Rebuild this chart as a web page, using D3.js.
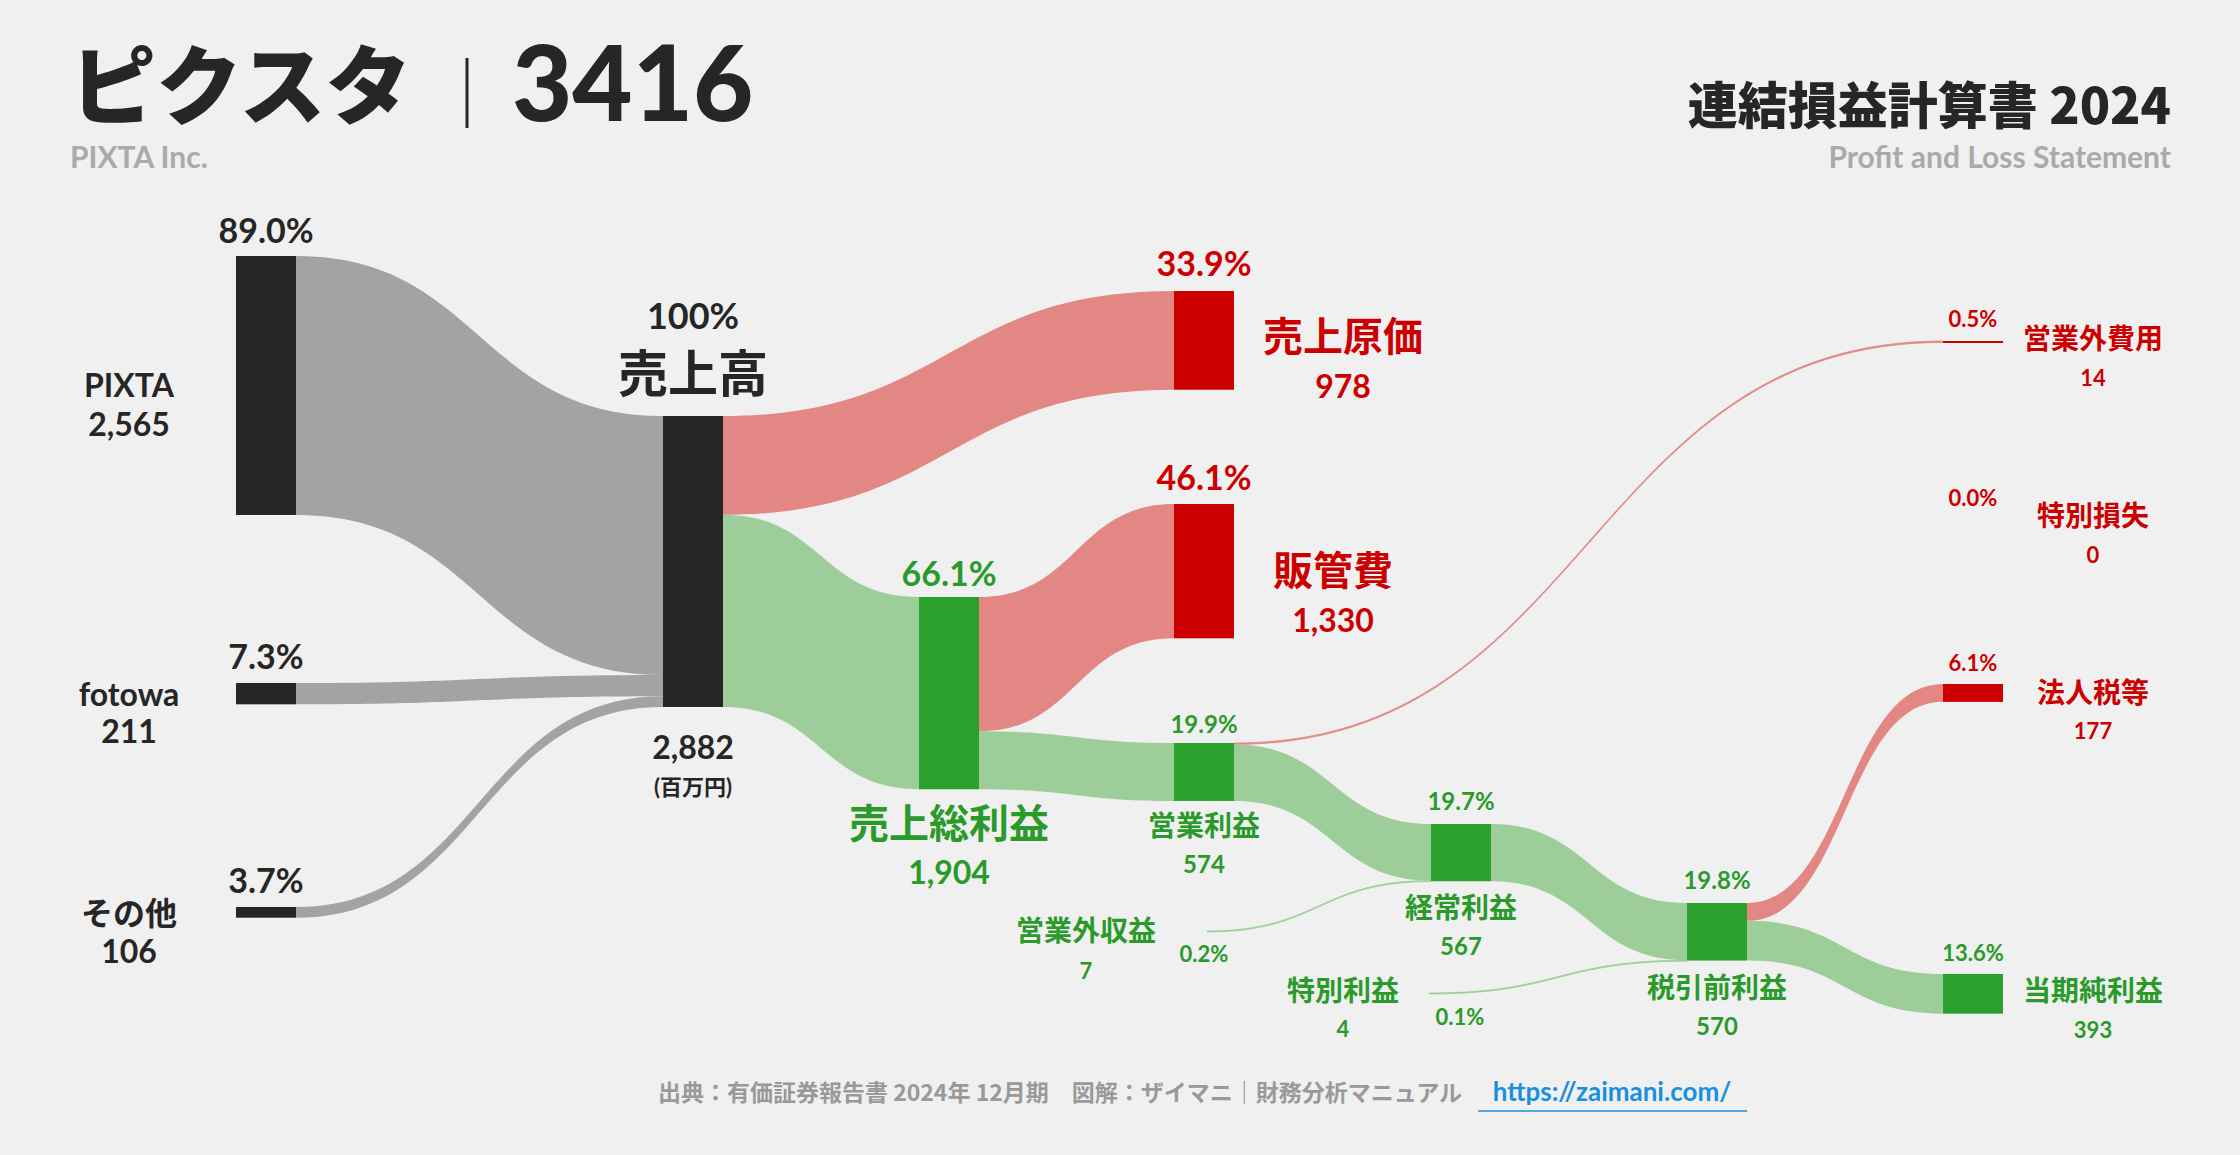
<!DOCTYPE html>
<html>
<head>
<meta charset="utf-8">
<script src="https://d3js.org/d3.v7.min.js"></script>
<style>
  body { margin: 0; background: #f0f0f0; }
  svg { font-family: Lato, "Noto Sans CJK JP", sans-serif; font-weight: 700; }
</style>
</head>
<body>
<svg id="chart" width="2240" height="1155"></svg>
<script>
// ---- data (百万円) ----
const nodeNames = ["PIXTA", "fotowa", "その他", "売上高", "売上原価", "売上総利益", "販管費",
  "営業利益", "営業外費用", "特別損失", "経常利益", "営業外収益", "特別利益", "税引前利益", "法人税等", "当期純利益"];
const nodeValues = [2565, 211, 106, 2882, 978, 1904, 1330, 574, 14, 0, 567, 7, 4, 570, 177, 393];
const nodePercents = ["89.0%", "7.3%", "3.7%", "100%", "33.9%", "66.1%", "46.1%", "19.9%", "0.5%", "0.0%", "19.7%", "0.2%", "0.1%", "19.8%", "6.1%", "13.6%"];
const linkSources = ["PIXTA", "fotowa", "その他", "売上高", "売上高", "売上総利益", "売上総利益", "営業利益", "営業利益", "営業外収益", "経常利益", "特別利益", "税引前利益", "税引前利益"];
const linkTargets = ["売上高", "売上高", "売上高", "売上原価", "売上総利益", "販管費", "営業利益", "営業外費用", "経常利益", "経常利益", "税引前利益", "税引前利益", "法人税等", "当期純利益"];
const linkValues = [2565, 211, 106, 978, 1904, 1330, 574, 14, 560, 7, 567, 4, 177, 393];

// ---- layout ----
const colX = [236, 663, 919, 1174, 1431, 1687, 1943];
const layout = {
  "PIXTA": [0, 256, "dark"], "fotowa": [0, 683, "dark"], "その他": [0, 907, "dark"],
  "売上高": [1, 416, "dark"], "売上総利益": [2, 597, "green"],
  "売上原価": [3, 291, "red"], "販管費": [3, 504, "red"], "営業利益": [3, 743, "green"],
  "経常利益": [4, 824, "green"], "税引前利益": [5, 903, "green"],
  "営業外費用": [6, 341, "red"], "特別損失": [6, 521, "red"], "法人税等": [6, 684, "red"], "当期純利益": [6, 974, "green"],
  "営業外収益": [null, 931, "none", 1207], "特別利益": [null, 993, "none", 1429]
};
const W = 60;
const col = { dark: "#262626", red: "#cc0000", green: "#2ca02c", none: "none" };
const linkCol = { dark: "#a3a3a3", red: "#e28783", green: "#9dce9a" };
const h = d3.scaleLinear().domain([0, 2882]).range([0, 291]);

const svg = d3.select("#chart");
const nodes = nodeNames.map((n, i) => {
  const L = layout[n];
  const x = L[0] === null ? L[3] : colX[L[0]];
  return { name: n, value: nodeValues[i], pct: nodePercents[i], x: x, y: L[1], kind: L[2],
    w: L[0] === null ? 0 : W, outOff: 0, inOff: 0 };
});
const byName = Object.fromEntries(nodes.map(d => [d.name, d]));

const links = linkSources.map((s, i) => {
  const S = byName[s], T = byName[linkTargets[i]], v = linkValues[i];
  const th = Math.max(h(v), 1);
  const y0 = S.y + S.outOff, y1 = T.y + T.inOff;
  S.outOff += h(v); T.inOff += h(v);
  return { S, T, v, th, y0, y1, kind: T.kind === "red" ? "red" : (S.kind === "dark" && T.name === "売上高" ? "dark" : "green") };
});

function ribbon(d) {
  const x0 = d.S.x + d.S.w, x1 = d.T.x, xm = (x0 + x1) / 2;
  const a = d.y0, b = d.y1, t = d.th;
  return `M${x0},${a}C${xm},${a} ${xm},${b} ${x1},${b}L${x1},${b + t}C${xm},${b + t} ${xm},${a + t} ${x0},${a + t}Z`;
}
svg.append("g").selectAll("path").data(links).join("path")
  .attr("d", ribbon)
  .attr("fill", d => linkCol[d.kind])
  .attr("stroke", d => d.th < 2 ? linkCol[d.kind] : "none")
  .attr("stroke-width", 0.8);

svg.append("g").selectAll("rect").data(nodes.filter(d => d.w > 0)).join("rect")
  .attr("x", d => d.x).attr("y", d => d.y).attr("width", d => d.w)
  .attr("height", d => Math.max(h(d.value), d.value > 0 ? 2 : 0))
  .attr("fill", d => col[d.kind]);

// ---- labels ----
function txt(x, y, s, size, color, anchor = "middle", weight = 700) {
  return svg.append("text").attr("x", x).attr("y", y).attr("font-size", size)
    .attr("fill", color).attr("text-anchor", anchor).attr("font-weight", weight).text(s);
}
const fmt = d3.format(",");
const dark = "#262626", red = "#cc0000", green = "#2a9a2a";
const labels = [
  ["PIXTA", [266, 243, 34], [129, 397, 32], [129, 436, 32], dark],
  ["fotowa", [266, 669, 34], [129, 706, 32], [129, 743, 32], dark],
  ["その他", [266, 893, 34], [129, 925, 32], [129, 963, 32], dark],
  ["売上高", [693, 329, 36], [693, 392, 50], [693, 759, 32], dark],
  ["売上原価", [1204, 276, 34], [1343, 351, 40], [1343, 398, 32], red],
  ["販管費", [1204, 490, 34], [1333, 585, 40], [1333, 632, 32], red],
  ["売上総利益", [949, 586, 34], [949, 838, 40], [949, 884, 32], green],
  ["営業利益", [1204, 733, 24], [1204, 836, 28], [1204, 873, 24], green],
  ["営業外費用", [1973, 327, 22], [2093, 349, 28], [2093, 386, 22], red],
  ["特別損失", [1973, 506, 22], [2093, 526, 28], [2093, 563, 22], red],
  ["法人税等", [1973, 671, 22], [2093, 703, 28], [2093, 739, 22], red],
  ["経常利益", [1461, 810, 24], [1461, 918, 28], [1461, 955, 24], green],
  ["営業外収益", [1204, 962, 22], [1086, 941, 28], [1086, 979, 22], green],
  ["特別利益", [1460, 1025, 22], [1343, 1001, 28], [1343, 1037, 22], green],
  ["税引前利益", [1717, 889, 24], [1717, 998, 28], [1717, 1035, 24], green],
  ["当期純利益", [1973, 961, 22], [2093, 1001, 28], [2093, 1038, 22], green]
];
labels.forEach(([n, p, nm, v, c]) => {
  const d = byName[n];
  txt(p[0], p[1], d.pct, p[2], c);
  txt(nm[0], nm[1], n, nm[2], c);
  txt(v[0], v[1], fmt(d.value), v[2], c);
});
txt(693, 795, "(百万円)", 22, dark);

// ---- titles ----
txt(70, 118, "ピクスタ", 86, dark, "start", 900).attr("font-family", "Noto Sans CJK JP");
svg.append("line").attr("x1", 467).attr("x2", 467).attr("y1", 58).attr("y2", 128).attr("stroke", dark).attr("stroke-width", 3);
txt(512, 121, "3416", 104, dark, "start", 900);
txt(70, 168, "PIXTA Inc.", 30, "#aaaaaa", "start");
txt(2171, 124, "連結損益計算書 2024", 50, dark, "end", 900).attr("font-family", "Noto Sans CJK JP");
txt(2171, 168, "Profit and Loss Statement", 30, "#aaaaaa", "end");

// ---- footer ----
txt(1060, 1101, "出典：有価証券報告書 2024年 12月期　図解：ザイマニ｜財務分析マニュアル", 23, "#999999", "middle")
  .attr("font-family", "Noto Sans CJK JP");
txt(1612, 1101, "https://zaimani.com/", 26, "#1a8fe0", "middle");
svg.append("line").attr("x1", 1478).attr("x2", 1747).attr("y1", 1111).attr("y2", 1111).attr("stroke", "#1a8fe0").attr("stroke-width", 1.5);
</script>
</body>
</html>
